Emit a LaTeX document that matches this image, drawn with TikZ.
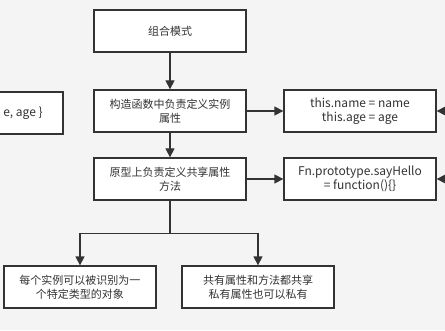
\documentclass[tikz,border=0pt]{standalone}
\usepackage{fontspec}
\setmainfont{Noto Sans CJK SC}
\usetikzlibrary{arrows.meta}
\definecolor{bg}{HTML}{F4F4F4}
\definecolor{ink}{HTML}{333333}
\begin{document}
\begin{tikzpicture}[x=1pt,y=1pt,
  box/.style={draw=ink, fill=white, line width=1.3pt, minimum width=152pt, minimum height=42pt,
    inner sep=0pt, align=center, text=ink, font=\fontsize{11}{14}\selectfont},
  code/.style={font=\fontsize{12}{14}\selectfont},
  arr/.style={draw=ink, line width=1.3pt, -{Triangle[length=9pt,width=9pt]}}]
\fill[bg] (0,0) rectangle (445,330);
\useasboundingbox (0,0) rectangle (445,330);
\begin{scope}
\clip (0,0) rectangle (445,330);
% main column
\node[box] (mode) at (170,299) {组合模式};
\node[box] (ctor) at (170,219) {构造函数中负责定义实例\\属性};
\node[box] (proto) at (170,151) {原型上负责定义共享属性\\方法};
% right column
\node[box, code] (own) at (360,219) {this.name = name\\this.age = age};
\node[box, code] (shared) at (360,151) {Fn.prototype.sayHello\\= function()\{\}};
% left, cut off
\node[box, code] (args) at (-13,217) {\hspace*{72pt}e, age \}};
% bottom
\node[box] (ident) at (80,43) {每个实例可以被识别为一\\个特定类型的对象};
\node[box] (priv) at (258,43) {共有属性和方法都共享\\私有属性也可以私有};
\coordinate (in1) at (450,219);
\coordinate (in2) at (450,151);
\draw[arr] (mode) -- (ctor);
\draw[arr] (ctor) -- (proto);
\draw[arr] (ctor) -- (own);
\draw[arr] (proto) -- (shared);
\draw[arr] (in1) -- (own);
\draw[arr] (in2) -- (shared);
\draw[draw=ink, line width=1.3pt] (proto.south) -- ++(0,-33) coordinate (fork);
\draw[arr] (fork) -| (ident.north);
\draw[arr] (fork) -| (priv.north);
\end{scope}
\end{tikzpicture}
\end{document}
